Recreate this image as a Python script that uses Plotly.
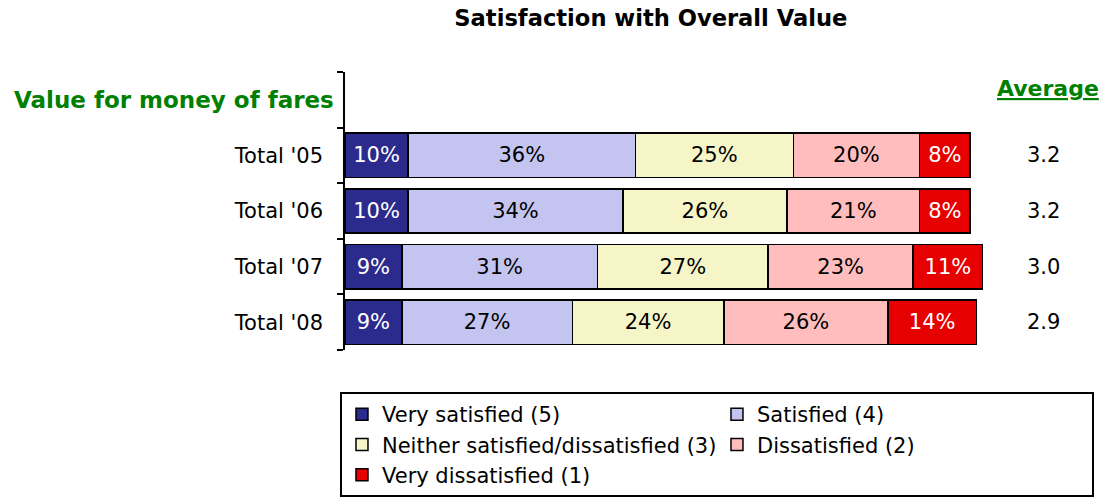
import plotly.graph_objects as go

header = "Value for money of fares"
rows = ["Total '05", "Total '06", "Total '07", "Total '08"]
very_satisfied = [10, 10, 9, 9]
satisfied = [36, 34, 31, 27]
neither = [25, 26, 27, 24]
dissatisfied = [20, 21, 23, 26]
very_dissatisfied = [8, 8, 11, 14]
averages = ["3.2", "3.2", "3.0", "2.9"]

series = [
    ("Very satisfied (5)", very_satisfied, "#2b2b8e", "white"),
    ("Satisfied (4)", satisfied, "#c4c4f0", "black"),
    ("Neither satisfied/dissatisfied (3)", neither, "#f5f5c8", "black"),
    ("Dissatisfied (2)", dissatisfied, "#ffbdbd", "black"),
    ("Very dissatisfied (1)", very_dissatisfied, "#e60000", "white"),
]

FONT = "DejaVu Sans"
cats = [header] + rows

fig = go.Figure()
for name, vals, color, tcolor in series:
    fig.add_trace(go.Bar(
        y=cats,
        x=[None] + vals,
        orientation="h",
        name=name,
        marker=dict(color=color, line=dict(color="black", width=1.5)),
        text=[""] + [f"{v}%" for v in vals],
        textposition="inside",
        insidetextanchor="middle",
        textfont=dict(family=FONT, size=21, color=tcolor),
        hoverinfo="skip",
    ))

# Average column
for i, a in enumerate(averages):
    fig.add_annotation(x=1.084, y=i + 1, xref="paper", yref="y", text=a, showarrow=False,
                       font=dict(family=FONT, size=21, color="black"), xanchor="center")
fig.add_annotation(x=1.092, y=0.942, xref="paper", yref="paper", text="<b><u>Average</u></b>",
                   showarrow=False, font=dict(family=FONT, size=22, color="#008000"),
                   xanchor="center", yanchor="middle")
fig.add_annotation(x=-0.014, y=0, xref="paper", yref="y", text="<b>" + header + "</b>",
                   showarrow=False, font=dict(family=FONT, size=23, color="#008000"), xanchor="right")

fig.update_layout(
    width=1105, height=504,
    paper_bgcolor="white", plot_bgcolor="white",
    barmode="stack", bargap=0.2,
    margin=dict(l=345, r=116, t=72, b=154, autoexpand=False),
    font=dict(family=FONT, size=21, color="black"),
    title=dict(text="<b>Satisfaction with Overall Value</b>", x=0.589, xref="container",
               y=0.964, yref="container", xanchor="center", yanchor="middle",
               font=dict(family=FONT, size=22.6, color="black")),
    showlegend=True,
    legend=dict(orientation="h", x=-0.0078, xanchor="left", y=-0.151, yanchor="top",
                bordercolor="black", borderwidth=2, bgcolor="white",
                entrywidth=330, font=dict(family=FONT, size=21, color="black"),
                traceorder="normal"),
    xaxis=dict(range=[0, 102], visible=False, fixedrange=True),
    yaxis=dict(type="category", categoryorder="array", categoryarray=cats,
               range=[4.5, -0.5], tickson="boundaries", ticks="outside", ticklen=6,
               tickcolor="black", tickwidth=1.5, showline=True, linecolor="black", linewidth=1.5,
               showgrid=False, zeroline=False,
               tickvals=cats, ticktext=[""] + rows, ticklabelstandoff=16,
               tickfont=dict(family=FONT, size=21, color="black")),
)

fig.write_html("out.html", config={"displayModeBar": False},
               post_script="document.body.style.margin='0';")
